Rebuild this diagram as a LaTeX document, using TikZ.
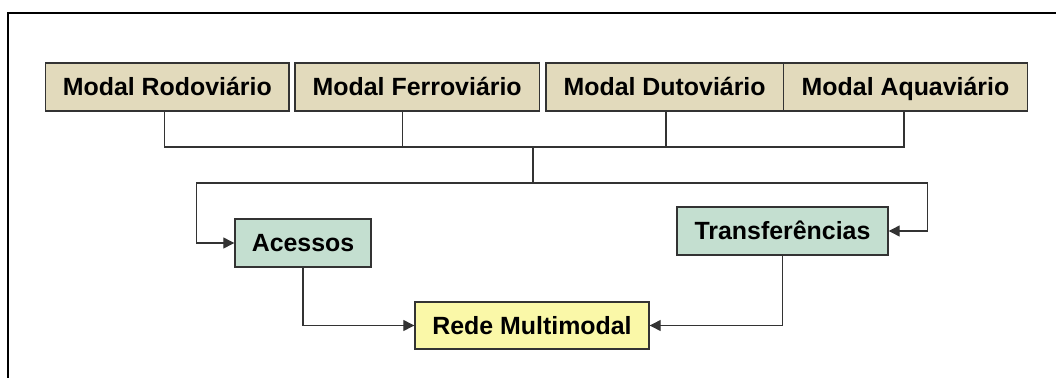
\documentclass[tikz,border=0pt]{standalone}
\usepackage{fontspec}
\setmainfont{Liberation Sans}
\usepackage{tikz}
\usetikzlibrary{arrows.meta,shapes}
\definecolor{modalfill}{RGB}{226,218,188}
\definecolor{nodefill}{RGB}{196,223,208}
\definecolor{redefill}{RGB}{250,248,168}
\definecolor{edgegray}{RGB}{51,51,51}
\tikzset{
  boxtext/.style={inner sep=0pt,text height=18bp,text depth=0.6bp,font=\fontsize{25}{30}\selectfont\bfseries},
  modal/.style={boxtext,draw=edgegray,line width=1.4bp,fill=modalfill,minimum height=47.7bp},
  part/.style={boxtext,draw=edgegray,line width=1.4bp,fill=nodefill,minimum height=48bp},
  link/.style={draw=edgegray,line width=1.3bp},
  arrowhead/.style={-{Triangle[length=11bp,width=11bp]}}
}
\begin{document}
\begin{tikzpicture}
\useasboundingbox (0bp,0bp) rectangle (1056bp,-378bp);
\draw [line width=2bp] (8bp,-378bp) -- (8bp,-13bp) -- (1056bp,-13bp);
\node (MR) at (167.3bp,-87bp)[modal,minimum width=243.3bp] {Modal Rodoviário};
\node (MF) at (417.2bp,-87bp)[modal,minimum width=244.3bp] {Modal Ferroviário};
\node (MD) at (664.6bp,-87bp)[modal,minimum width=237.6bp] {Modal Dutoviário};
\node (MA) at (905.5bp,-87bp)[modal,minimum width=244.5bp] {Modal Aquaviário};
\node (AC) at (303bp,-243bp)[part,minimum width=136bp] {Acessos};
\node (TR) at (782.5bp,-231bp)[part,minimum width=211bp] {Transferências};
\node (RM) at (532bp,-325.5bp)[part,fill=redefill,minimum width=234bp,minimum height=47bp] {Rede Multimodal};
\coordinate (J1) at (533bp,-147bp);
\coordinate (J2) at (533bp,-183bp);
\draw [link] ([xshift=-3bp]MR.south) |- ([xshift=-1.5bp]MA.south |- J1) -- ([xshift=-1.5bp]MA.south);
\draw [link] ([xshift=-14.5bp]MF.south) -- ([xshift=-14.5bp]MF.south |- J1);
\draw [link] ([xshift=1.4bp]MD.south) -- ([xshift=1.4bp]MD.south |- J1);
\draw [link] (J1) -- (J2);
\draw [link,arrowhead] (J2) -| ([xshift=-38bp]AC.west) -- (AC.west);
\draw [link,arrowhead] (J2) -| ([xshift=39bp]TR.east) -- (TR.east);
\draw [link,arrowhead] (AC.south) |- (RM.west);
\draw [link,arrowhead] (TR.south) |- (RM.east);
\end{tikzpicture}
\end{document}
